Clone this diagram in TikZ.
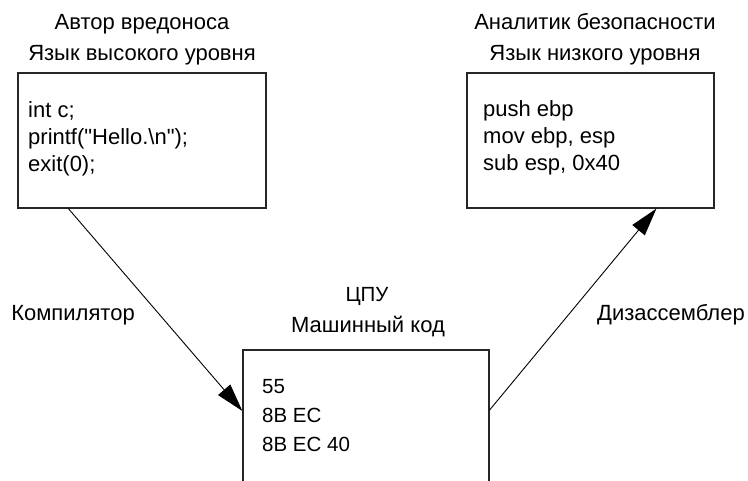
\documentclass[tikz,border=0pt]{standalone}
\usepackage{fontspec}
\setmainfont[Ligatures=TeXOff]{Liberation Sans}
\usetikzlibrary{arrows.meta}
\newcommand{\dq}{\char34\relax}
\begin{document}
\begin{tikzpicture}[x=1pt,y=-1pt,
  txt/.style={anchor=base, inner sep=0pt, font=\fontsize{22}{26}\selectfont},
  code/.style={anchor=base west, inner sep=0pt, font=\fontsize{22}{26}\selectfont},
  hexcode/.style={code, font=\fontsize{20.5}{24}\selectfont},
  box/.style={draw=black!85, line width=1.2pt, rectangle, inner sep=0pt},
  conn/.style={line width=0.9pt, -{Triangle[length=28pt,width=16pt]}}]
\useasboundingbox (0,0) rectangle (748,481);
\clip (0,0) rectangle (748,481);
% boxes
\node[box, minimum width=248pt, minimum height=135pt] (lbox) at (142,140.5) {};
\node[box, minimum width=247pt, minimum height=135pt] (rbox) at (590.5,140.5) {};
\node[box, minimum width=246pt, minimum height=160pt] (cbox) at (366,430) {};
% headers
\node[txt] (h1a) at (142,30) {Автор вредоноса};
\node[txt] (h1b) at (142,61) {Язык высокого уровня};
\node[txt] (h2a) at (595,30) {Аналитик безопасности};
\node[txt] (h2b) at (595,61) {Язык низкого уровня};
\node[txt, font=\fontsize{20.5}{24}\selectfont] (h3a) at (367,302) {ЦПУ};
\node[txt] (h3b) at (368,333) {Машинный код};
% code
\node[code] (l1) at (28,118) {int c;};
\node[code] (l2) at (28,145) {printf(\dq Hello.\textbackslash n\dq);};
\node[code] (l3) at (28,172) {exit(0);};
\node[code] (r1) at (483,117) {push ebp};
\node[code] (r2) at (483,144) {mov ebp, esp};
\node[code] (r3) at (483,171) {sub esp, 0x40};
\node[hexcode] (c1) at (262,394) {55};
\node[hexcode] (c2) at (262,423) {8B EC};
\node[hexcode] (c3) at (262,452) {8B EC 40};
% connectors
\coordinate (lstart) at ([xshift=51pt]lbox.south west);
\coordinate (lend) at (cbox.west |- 0,411);
\coordinate (rstart) at (cbox.east |- 0,410);
\coordinate (rend) at ([xshift=190pt]rbox.south west);
\draw[conn] (lstart) -- (lend);
\draw[conn] (rstart) -- (rend);
\node[txt] (comp) at (73,321) {Компилятор};
\node[txt] (disasm) at (671,321) {Дизассемблер};
\end{tikzpicture}
\end{document}
